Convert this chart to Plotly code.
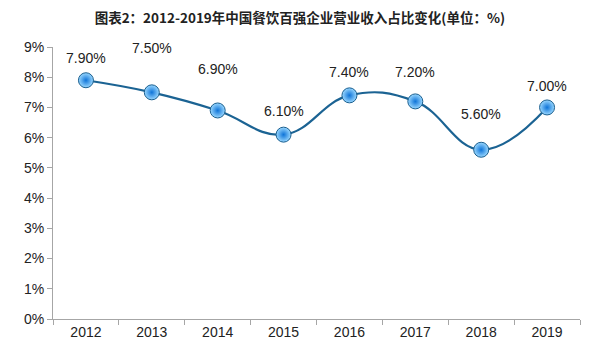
import plotly.graph_objects as go

years = ["2012", "2013", "2014", "2015", "2016", "2017", "2018", "2019"]
share = [7.90, 7.50, 6.90, 6.10, 7.40, 7.20, 5.60, 7.00]
labels = ["7.90%", "7.50%", "6.90%", "6.10%", "7.40%", "7.20%", "5.60%", "7.00%"]
y_ticks = [0, 1, 2, 3, 4, 5, 6, 7, 8, 9]
y_tick_text = ["0%", "1%", "2%", "3%", "4%", "5%", "6%", "7%", "8%", "9%"]

# label vertical offsets in px (style only)
label_shift = [22, 44, 41, 24, 23, 29, 36, 21]

fig = go.Figure()
fig.add_trace(go.Scatter(
    x=years, y=share, mode="lines+markers",
    line=dict(color="#1b6393", width=2.2, shape="spline", smoothing=1.2),
    marker=dict(size=15, color="#9ad8ff",
                gradient=dict(type="radial", color="#0f74d8"),
                line=dict(color="#1b5f8f", width=1)),
    hoverinfo="skip", showlegend=False,
))

for i, (y, t, s) in enumerate(zip(share, labels, label_shift)):
    fig.add_annotation(x=i, y=y, xref="x", yref="y", text=t, showarrow=False, yshift=s,
                       font=dict(family="Liberation Sans, Arial", size=14, color="#222"))

fig.update_layout(
    width=592, height=350,
    margin=dict(l=45, r=20, t=39, b=39, autoexpand=False),
    paper_bgcolor="white", plot_bgcolor="white",
    title=dict(text="<b>图表2：2012-2019年中国餐饮百强企业营业收入占比变化(单位：%)</b>",
               x=0.493, xanchor="center", y=0.97, yanchor="middle",
               font=dict(family="Noto Sans CJK SC", size=13.5, color="#222")),
    xaxis=dict(type="category", showgrid=False, showline=True, linecolor="#a6a6a6", linewidth=1,
               ticks="outside", tickcolor="#a6a6a6", ticklen=5, tickson="boundaries",
               tickfont=dict(family="Liberation Sans, Arial", size=14, color="#222"),
               range=[-0.5, 7.5], fixedrange=True),
    yaxis=dict(range=[0, 9], tickvals=y_ticks, ticktext=y_tick_text, showgrid=False,
               showline=True, linecolor="#a6a6a6", linewidth=1, ticks="outside",
               tickcolor="#a6a6a6", ticklen=5, zeroline=False,
               tickfont=dict(family="Liberation Sans, Arial", size=14, color="#222"),
               fixedrange=True),
)

fig.write_html("out.html")
